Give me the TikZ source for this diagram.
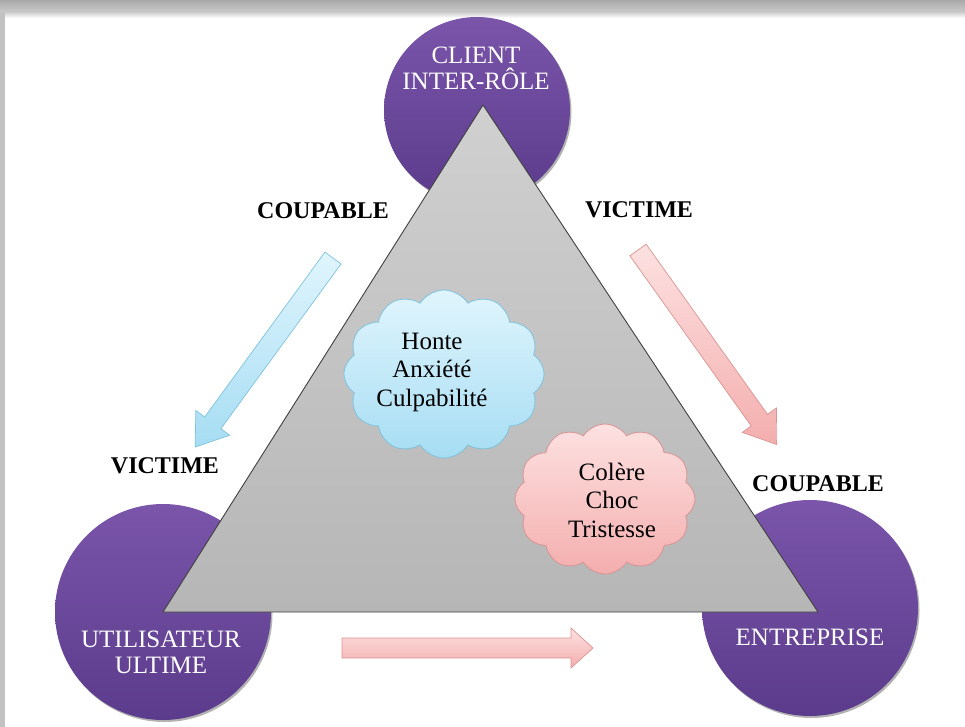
\documentclass[tikz,border=0pt]{standalone}
\usepackage{fontspec}
\setmainfont{Liberation Serif}
\usetikzlibrary{shapes.symbols,shadows}
\definecolor{purpA}{HTML}{7A55AA}
\definecolor{purpB}{HTML}{5B3B8B}
\definecolor{triA}{HTML}{D0D0D0}
\definecolor{triB}{HTML}{B6B6B6}
\definecolor{blueA}{HTML}{E0F5FD}
\definecolor{blueB}{HTML}{A6DDF3}
\definecolor{blueD}{HTML}{7FC3DE}
\definecolor{pinkA}{HTML}{FDE1E1}
\definecolor{pinkB}{HTML}{F4AEAE}
\definecolor{pinkD}{HTML}{D99494}
\definecolor{frameG}{HTML}{A8A8A8}
\begin{document}
\begin{tikzpicture}[x=1pt,y=-1pt,
  circ/.style={circle, minimum size=#1, inner sep=0pt, draw=none,
    top color=purpA, bottom color=purpB,
    drop shadow={shadow xshift=1.5pt, shadow yshift=-2pt, opacity=.3, fill=black}},
  ctext/.style={text=white, font=\fontsize{25}{27}\selectfont, align=center, inner sep=0pt},
  lbl/.style={font=\bfseries\fontsize{24}{26}\selectfont, inner sep=0pt},
  cloudtext/.style={font=\fontsize{25}{28.5}\selectfont, align=center, inner sep=0pt},
  bluecloud/.style={cloud, cloud puffs=12, cloud puff arc=115, cloud ignores aspect,
    draw=blueD, line width=0.8pt, top color=blueA, bottom color=blueB, inner sep=0pt},
  pinkcloud/.style={cloud, cloud puffs=12, cloud puff arc=115, cloud ignores aspect,
    draw=pinkD, line width=0.8pt, top color=pinkA, bottom color=pinkB, inner sep=0pt},
  bluearrow/.style={draw=blueD, line width=0.7pt, top color=blueA, bottom color=blueB, line join=miter},
  pinkarrow/.style={draw=pinkD, line width=0.7pt, top color=pinkA, bottom color=pinkB, line join=miter}
]
\useasboundingbox (0,0) rectangle (965,727);
% frame
\shade[top color=frameG, bottom color=frameG!60] (0,0) rectangle (965,12);
\fill[frameG!70] (0,12) rectangle (5,727);
\fill[white] (5,12) rectangle (965,727);
\shade[top color=black!20, bottom color=white] (5,12) rectangle (965,18);

% circles
\node[circ=186pt] (client) at (477,110) {};
\node[circ=216pt] (util) at (163,612) {};
\node[circ=216pt] (entr) at (810,608) {};

% triangle
\coordinate (A) at (483,105);
\coordinate (B) at (163,612);
\coordinate (C) at (818,612);
\path[draw=black!75, line width=0.9pt, top color=triA, bottom color=triB, line join=miter] (A) -- (B) -- (C) -- cycle;

% circle texts
\node[ctext] (clientT) at (476,68) {CLIENT\\[-1pt]INTER-RÔLE};
\node[ctext] (utilT) at (161,652) {UTILISATEUR\\[-1pt]ULTIME};
\node[ctext] (entrT) at (810,637) {ENTREPRISE};

% labels
\node[lbl] (coup1) at (323,211) {COUPABLE};
\node[lbl] (vict1) at (639,210) {VICTIME};
\node[lbl] (vict2) at (165,466) {VICTIME};
\node[lbl] (coup2) at (818,484) {COUPABLE};

% block arrows
\begin{scope}[shift={(333,258)}, rotate=233.9]
  \path[bluearrow] (0,-10) -- (204,-10) -- (204,-21) -- (234,0) -- (204,21) -- (204,10) -- (0,10) -- cycle;
\end{scope}
\begin{scope}[shift={(638,250)}, rotate=-54.5]
  \path[pinkarrow] (0,-10) -- (209,-10) -- (209,-21) -- (239,0) -- (209,21) -- (209,10) -- (0,10) -- cycle;
\end{scope}
\begin{scope}[shift={(342,648)}]
  \path[pinkarrow] (0,-10) -- (229,-10) -- (229,-20) -- (251,0) -- (229,20) -- (229,10) -- (0,10) -- cycle;
\end{scope}

% clouds
\node[bluecloud, minimum width=200pt, minimum height=168pt] (bc) at (444,374) {};
\node[cloudtext] (bcT) at (432,372) {Honte\\Anxiété\\Culpabilité};
\node[pinkcloud, minimum width=180pt, minimum height=150pt] (pc) at (605,499) {};
\node[cloudtext] (pcT) at (612,500) {Colère\\Choc\\Tristesse};
\end{tikzpicture}
\end{document}
